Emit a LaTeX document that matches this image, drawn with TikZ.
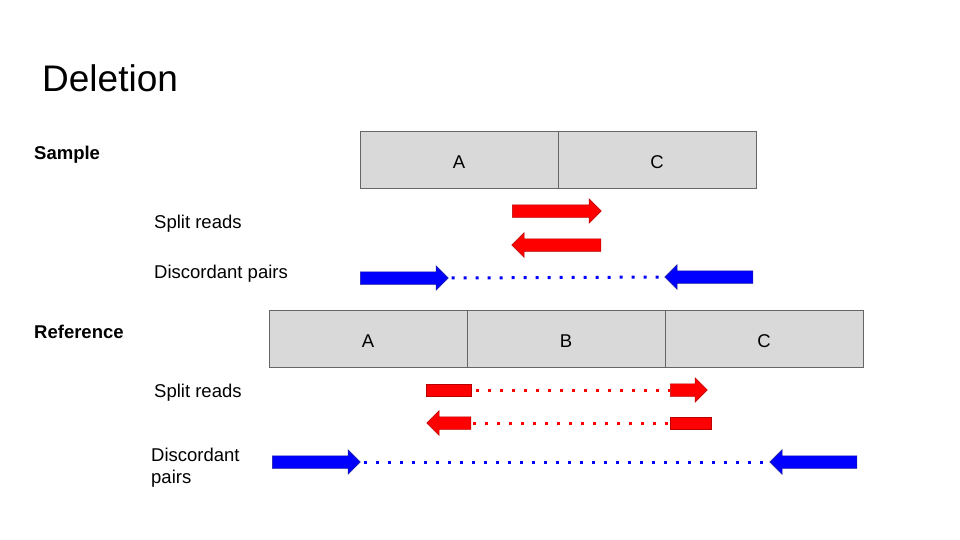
\documentclass[tikz,border=0pt]{standalone}
\usepackage{fontspec}
\setmainfont{Liberation Sans}
\usetikzlibrary{shapes.arrows}
\definecolor{boxfill}{HTML}{D9D9D9}
\definecolor{boxline}{HTML}{666666}
\definecolor{redline}{HTML}{B80000}
\definecolor{blueline}{HTML}{1C1C9C}
\tikzset{
  seg/.style={draw=boxline, fill=boxfill, line width=0.8pt, minimum width=198pt, minimum height=57pt, inner sep=0pt, text height=17pt, text depth=0pt, font=\fontsize{18.5}{22}\selectfont, anchor=center},
  lbl/.style={anchor=base west, inner sep=0pt, font=\fontsize{18.5}{22}\selectfont, align=left},
  bold lbl/.style={lbl, font=\fontsize{18.5}{22}\selectfont\bfseries},
  rarrow/.style={single arrow, fill=red, draw=redline, line width=0.5pt, inner sep=0pt, minimum width=24pt, single arrow head extend=6pt, single arrow tip angle=90, single arrow head indent=0pt, text height=12pt, text depth=0pt, text width=0pt, anchor=tail},
  barrow/.style={rarrow, fill=blue, draw=blueline},
  rrect/.style={rectangle, fill=red, draw=redline, line width=0.5pt, inner sep=0pt, minimum height=12pt},
  reddots/.style={draw=red, line width=3pt, dash pattern=on 3pt off 9pt, shorten <=5pt},
  bluedots/.style={draw=blue, line width=3pt, dash pattern=on 3pt off 9pt, shorten <=3pt}
}
\begin{document}
\begin{tikzpicture}[x=1pt,y=-1pt]
\useasboundingbox (0,0) rectangle (960,540);
% title and labels
\node[anchor=base west, inner sep=0pt, font=\fontsize{37}{40}\selectfont] (title) at (42,91.5) {Deletion};
\node[bold lbl] (sample) at (34,160) {Sample};
\node[lbl] (ssplit) at (154,228) {Split reads};
\node[lbl] (sdisc) at (154,278) {Discordant pairs};
\node[bold lbl] (reference) at (34,338.5) {Reference};
\node[lbl] (rsplit) at (154,397) {Split reads};
\node[lbl] (rdisc) at (151,483.5) {Discordant\\pairs};
% sample segments
\node[seg] (sA) at (459,159.5) {A};
\node[seg] (sC) at (657,159.5) {C};
% reference segments
\node[seg] (rA) at (368,339) {A};
\node[seg] (rB) at (566,339) {B};
\node[seg] (rC) at (764,339) {C};
% sample split reads
\node[rarrow, minimum height=89pt] (ss1) at (512,211) {};
\node[rarrow, minimum height=89pt, shape border rotate=180] (ss2) at (601,245) {};
% sample discordant pairs
\node[barrow, minimum height=88pt] (sd1) at (360,278) {};
\node[barrow, minimum height=88pt, shape border rotate=180] (sd2) at (753,277) {};
\draw[bluedots] (sd1.tip) -- (sd2.tip);
% reference split reads
\node[rrect, minimum width=45pt] (rs1a) at (448.5,390) {};
\node[rarrow, minimum height=37pt] (rs1b) at (670,390) {};
\draw[reddots] (rs1a.east) -- (rs1b.tail);
\node[rarrow, minimum height=44pt, shape border rotate=180] (rs2a) at (471,423) {};
\node[rrect, minimum width=41pt] (rs2b) at (690.5,423) {};
\draw[reddots, shorten <=2pt] (rs2a.tail) -- (rs2b.west);
% reference discordant pairs
\node[barrow, minimum height=88pt] (rd1) at (272,462) {};
\node[barrow, minimum height=87pt, shape border rotate=180] (rd2) at (857,462) {};
\draw[bluedots] (rd1.tip) -- (rd2.tip);
\end{tikzpicture}
\end{document}
